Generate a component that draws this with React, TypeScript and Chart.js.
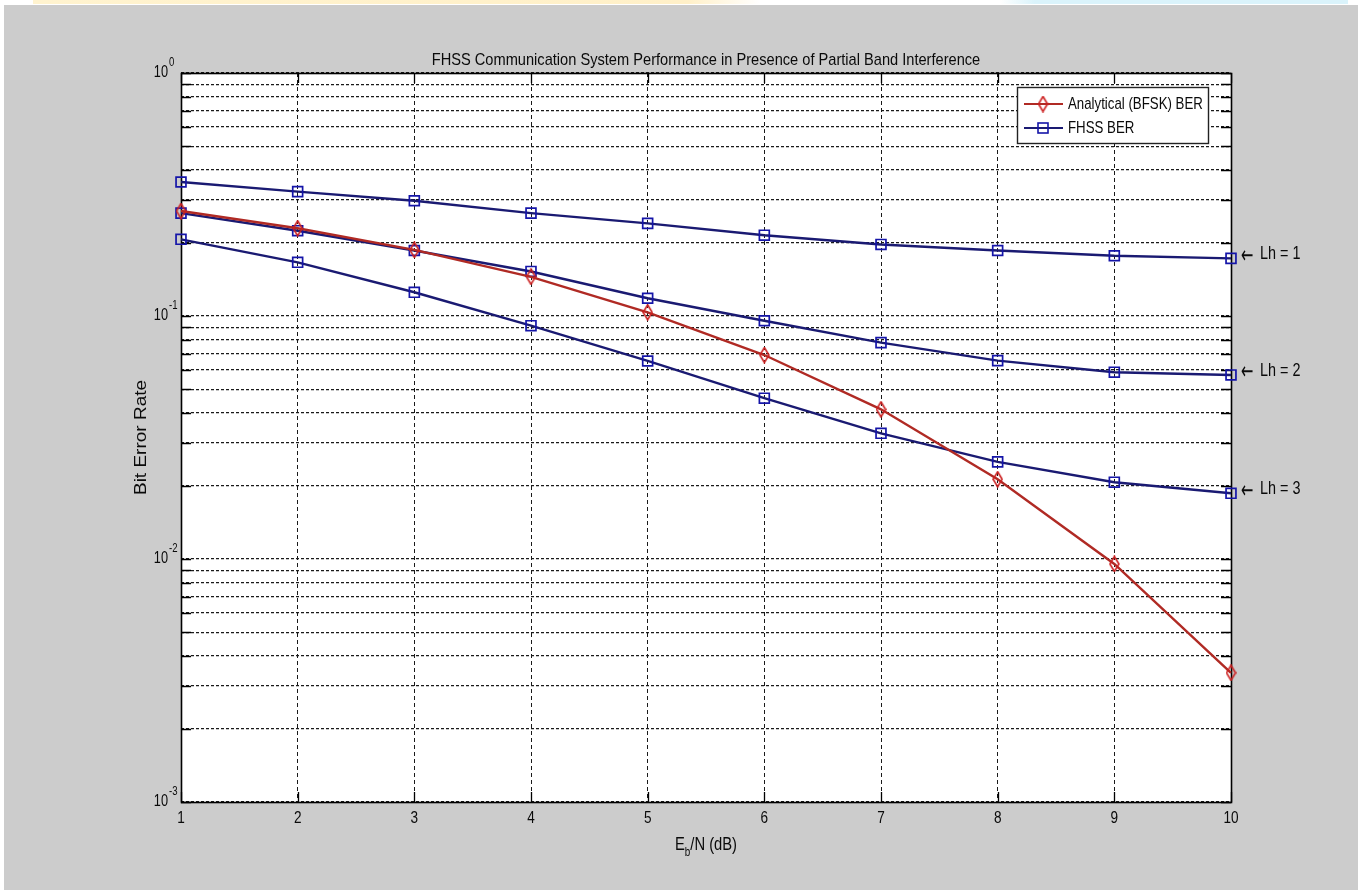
import React, { useEffect, useRef } from 'react';
import { Chart, registerables } from 'chart.js';

Chart.register(...registerables);

// ---------------- data ----------------
const ebn0 = [1, 2, 3, 4, 5, 6, 7, 8, 9, 10];
const analyticalBer = [0.2704, 0.2296, 0.187, 0.145, 0.1036, 0.0691, 0.0413, 0.0213, 0.00954, 0.0034];
const fhssLh1 = [0.356, 0.325, 0.298, 0.265, 0.2405, 0.215, 0.197, 0.186, 0.177, 0.1727];
const fhssLh2 = [0.265, 0.2244, 0.186, 0.1525, 0.1183, 0.0956, 0.0777, 0.0655, 0.0587, 0.0572];
const fhssLh3 = [0.2068, 0.1663, 0.1252, 0.0912, 0.0653, 0.0459, 0.0329, 0.0251, 0.0207, 0.01864];
const fhssSeries = [fhssLh1, fhssLh2, fhssLh3];
const lhLabels = ['Lh = 1', 'Lh = 2', 'Lh = 3'];
const xTicks = [1, 2, 3, 4, 5, 6, 7, 8, 9, 10];
const yExponents = [-3, -2, -1, 0];
const yMantissas = [1, 2, 3, 4, 5, 6, 7, 8, 9];
const legendLabels = ['Analytical (BFSK) BER', 'FHSS BER'];
const titleText = 'FHSS Communication System Performance in Presence of Partial Band Interference';
const yTitleText = 'Bit Error Rate';

// ---------------- style ----------------
const W = 1358;
const H = 890;
const FONT = '"Liberation Sans", Arial, sans-serif';
const ARROW_FONT = '"DejaVu Sans", sans-serif';
const RED = '#b02a24';
const RED_MARK = '#cc2020';
const NAVY = '#1a1a72';
const BLUE_MARK = '#1515a8';
const GRID = '#1a1a1a';

const yGridValues: number[] = [];
yExponents.forEach((e) => {
  if (e === 0) yGridValues.push(1);
  else yMantissas.forEach((m) => yGridValues.push(m * Math.pow(10, e)));
});

function txt(
  ctx: CanvasRenderingContext2D,
  s: string,
  x: number,
  y: number,
  size: number,
  sx: number,
  align: CanvasTextAlign = 'center',
  color = '#0a0a0a',
  family = FONT
) {
  ctx.save();
  ctx.font = `${size}px ${family}`;
  ctx.textBaseline = 'middle';
  ctx.textAlign = align;
  ctx.fillStyle = color;
  ctx.translate(x, y);
  ctx.scale(sx, 1);
  ctx.fillText(s, 0, 0);
  ctx.restore();
}

function makeDiamond(): HTMLCanvasElement {
  const c = document.createElement('canvas');
  c.width = 11;
  c.height = 17;
  const g = c.getContext('2d')!;
  g.strokeStyle = RED_MARK;
  g.lineWidth = 1.6;
  g.beginPath();
  g.moveTo(5.5, 1);
  g.lineTo(10, 8.5);
  g.lineTo(5.5, 16);
  g.lineTo(1, 8.5);
  g.closePath();
  g.stroke();
  return c;
}

export default function App() {
  const ref = useRef<HTMLCanvasElement>(null);

  useEffect(() => {
    document.body.style.margin = '0';
    const canvas = ref.current;
    if (!canvas) return;
    const diamond = makeDiamond();

    const decor = {
      id: 'decor',
      beforeDraw(chart: any) {
        const ctx: CanvasRenderingContext2D = chart.ctx;
        const { left, top, right, bottom } = chart.chartArea;
        ctx.save();
        ctx.fillStyle = '#cccccc';
        ctx.fillRect(0, 0, W, H);
        ctx.fillStyle = '#ffffff';
        ctx.fillRect(0, 0, W, 5);
        ctx.fillRect(0, 0, 4, H);
        const gy = ctx.createLinearGradient(33, 0, 760, 0);
        gy.addColorStop(0, '#fff3cf');
        gy.addColorStop(0.9, '#fff0c8');
        gy.addColorStop(1, '#ffffff');
        ctx.fillStyle = gy;
        ctx.fillRect(33, 0, 727, 4);
        const gb = ctx.createLinearGradient(1000, 0, 1348, 0);
        gb.addColorStop(0, '#ffffff');
        gb.addColorStop(0.1, '#daf3fb');
        gb.addColorStop(1, '#daf3fb');
        ctx.fillStyle = gb;
        ctx.fillRect(1000, 0, 348, 4);
        ctx.fillStyle = '#ffffff';
        ctx.fillRect(left, top, right - left, bottom - top);
        ctx.restore();
      },
      beforeDatasetsDraw(chart: any) {
        const ctx: CanvasRenderingContext2D = chart.ctx;
        const { left, top, right, bottom } = chart.chartArea;
        const xs = chart.scales.x;
        const ys = chart.scales.y;
        ctx.save();
        ctx.strokeStyle = '#000';
        ctx.lineWidth = 1.3;
        ctx.beginPath();
        yGridValues.forEach((v) => {
          const py = Math.round(ys.getPixelForValue(v)) + 0.5;
          ctx.moveTo(left, py);
          ctx.lineTo(left + 10, py);
          ctx.moveTo(right - 10, py);
          ctx.lineTo(right, py);
        });
        xTicks.forEach((v) => {
          const px = Math.round(xs.getPixelForValue(v)) + 0.5;
          ctx.moveTo(px, bottom);
          ctx.lineTo(px, bottom - 10);
          ctx.moveTo(px, top);
          ctx.lineTo(px, top + 10);
        });
        ctx.stroke();
        ctx.lineWidth = 1.6;
        ctx.strokeRect(Math.round(left) + 0.5, Math.round(top) + 0.5, Math.round(right - left), Math.round(bottom - top));
        ctx.restore();
      },
      afterDraw(chart: any) {
        const ctx: CanvasRenderingContext2D = chart.ctx;
        const { left, right, bottom } = chart.chartArea;
        const xs = chart.scales.x;
        const ys = chart.scales.y;
        const cx = (left + right) / 2;

        // title
        txt(ctx, titleText, cx, 60, 17, 0.86);

        // y tick labels 10^k
        yExponents.forEach((e) => {
          const py = ys.getPixelForValue(Math.pow(10, e));
          txt(ctx, '10', left - 13, py - 1, 17, 0.75, 'right');
          txt(ctx, String(e), left - 12, py - 10, 12, 0.8, 'left');
        });

        // x tick labels
        xTicks.forEach((v) => {
          txt(ctx, String(v), xs.getPixelForValue(v), bottom + 16, 17, 0.8);
        });

        // x title  E_b/N (dB)
        ctx.save();
        const sx = 0.82;
        ctx.font = `18px ${FONT}`;
        const wE = ctx.measureText('E').width * sx;
        const wRest = ctx.measureText('/N (dB)').width * sx;
        ctx.font = `12px ${FONT}`;
        const wb = ctx.measureText('b').width * sx;
        ctx.restore();
        const total = wE + wb + wRest;
        let x0 = cx - total / 2;
        const ty = bottom + 43;
        txt(ctx, 'E', x0, ty, 18, sx, 'left');
        x0 += wE;
        txt(ctx, 'b', x0, ty + 8, 12, sx, 'left');
        x0 += wb;
        txt(ctx, '/N (dB)', x0, ty, 18, sx, 'left');

        // y title
        ctx.save();
        ctx.translate(142, (chart.chartArea.top + bottom) / 2);
        ctx.rotate(-Math.PI / 2);
        ctx.scale(1, 0.82);
        ctx.font = `19px ${FONT}`;
        ctx.textAlign = 'center';
        ctx.textBaseline = 'middle';
        ctx.fillStyle = '#0a0a0a';
        ctx.fillText(yTitleText, 0, 0);
        ctx.restore();

        // legend
        const lx = 1017;
        const ly = 87;
        ctx.save();
        ctx.fillStyle = '#ffffff';
        ctx.fillRect(lx, ly, 191, 56);
        ctx.strokeStyle = '#222';
        ctx.lineWidth = 1.4;
        ctx.strokeRect(lx + 0.5, ly + 0.5, 191, 56);
        const rows = [ly + 17, ly + 41];
        ctx.strokeStyle = RED;
        ctx.lineWidth = 2.2;
        ctx.beginPath();
        ctx.moveTo(1024, rows[0]);
        ctx.lineTo(1063, rows[0]);
        ctx.stroke();
        ctx.drawImage(diamond, 1043 - diamond.width / 2, rows[0] - diamond.height / 2);
        ctx.strokeStyle = NAVY;
        ctx.beginPath();
        ctx.moveTo(1024, rows[1]);
        ctx.lineTo(1063, rows[1]);
        ctx.stroke();
        ctx.strokeStyle = BLUE_MARK;
        ctx.lineWidth = 1.6;
        ctx.strokeRect(1043 - 5, rows[1] - 5, 10, 10);
        ctx.restore();
        txt(ctx, legendLabels[0], 1068, rows[0], 17, 0.78, 'left');
        txt(ctx, legendLabels[1], 1068, rows[1], 17, 0.78, 'left');

        // Lh annotations at the end of each FHSS curve
        fhssSeries.forEach((s, i) => {
          const py = ys.getPixelForValue(s[s.length - 1]);
          txt(ctx, '\u2190', right + 10, py - 2, 24, 0.62, 'left', '#0a0a0a', ARROW_FONT);
          txt(ctx, lhLabels[i], right + 29, py - 4, 18, 0.8, 'left');
        });
      },
    };

    const blueDs = (label: string, vals: number[]) => ({
      label,
      data: ebn0.map((x, i) => ({ x, y: vals[i] })),
      borderColor: NAVY,
      borderWidth: 2.4,
      pointStyle: 'rect',
      pointRadius: 7,
      pointBorderColor: BLUE_MARK,
      pointBorderWidth: 1.7,
      pointBackgroundColor: 'rgba(0,0,0,0)',
      backgroundColor: 'rgba(0,0,0,0)',
      tension: 0,
      clip: false,
    });

    const chart = new Chart(canvas, {
      type: 'line',
      data: {
        datasets: [
          {
            label: legendLabels[0],
            data: ebn0.map((x, i) => ({ x, y: analyticalBer[i] })),
            borderColor: RED,
            borderWidth: 2.4,
            pointStyle: diamond as any,
            pointRadius: 8,
            backgroundColor: 'rgba(0,0,0,0)',
            tension: 0,
            clip: false,
          } as any,
          blueDs('FHSS Lh=1', fhssLh1),
          blueDs('FHSS Lh=2', fhssLh2),
          blueDs('FHSS Lh=3', fhssLh3),
        ],
      },
      options: {
        responsive: false,
        animation: false,
        events: [],
        layout: { padding: { left: 181, right: 127, top: 73, bottom: 88 } },
        plugins: {
          legend: { display: false },
          title: { display: false },
          tooltip: { enabled: false },
        },
        scales: {
          x: {
            type: 'linear',
            min: 1,
            max: 10,
            afterBuildTicks: (s: any) => {
              s.ticks = xTicks.map((v) => ({ value: v }));
            },
            afterFit: (s: any) => {
              s.height = 0;
            },
            ticks: { display: false },
            grid: { color: GRID, lineWidth: 1, drawTicks: false },
            border: { display: false, dash: [4, 3] },
          },
          y: {
            type: 'logarithmic',
            min: 0.001,
            max: 1,
            afterBuildTicks: (s: any) => {
              s.ticks = yGridValues.map((v) => ({ value: v }));
            },
            afterFit: (s: any) => {
              s.width = 0;
            },
            ticks: { display: false },
            grid: { color: GRID, lineWidth: 1.2, drawTicks: false },
            border: { display: false, dash: [3, 2] },
          },
        },
      } as any,
      plugins: [decor],
    });

    return () => chart.destroy();
  }, []);

  return (
    <div style={{ position: 'absolute', left: 0, top: 0, width: W, height: H }}>
      <canvas ref={ref} width={W} height={H} style={{ display: 'block' }} />
    </div>
  );
}
